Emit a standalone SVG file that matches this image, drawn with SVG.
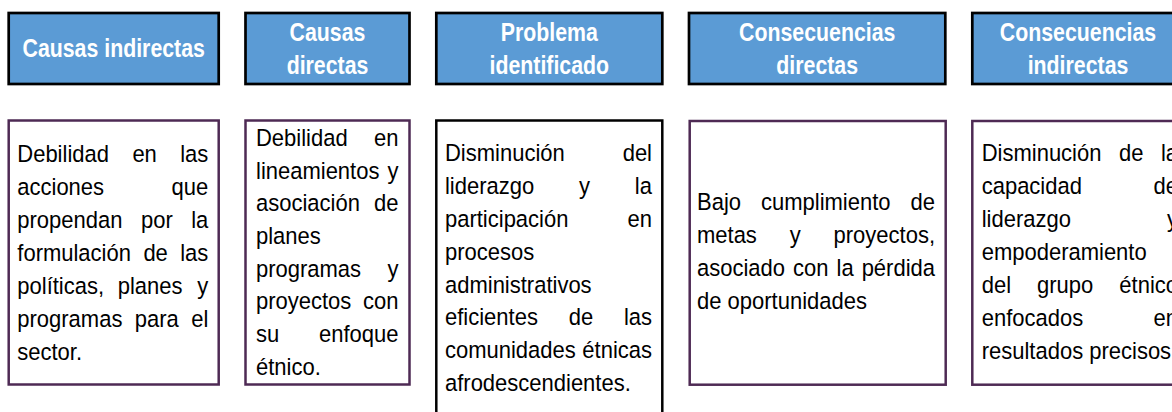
<svg xmlns="http://www.w3.org/2000/svg" width="1172" height="412" viewBox="0 0 1172 412">
<style>
.hdr{fill:#5B9BD5;stroke:#000;stroke-width:2.7}
.box{fill:#fff;stroke:#4E2A54;stroke-width:2.5}
.boxk{fill:#fff;stroke:#000;stroke-width:2.5}
.ht{font-family:"Liberation Sans",Arial,sans-serif;font-weight:bold;font-size:26px;fill:#fff;text-anchor:middle}
.bt{font-family:"Liberation Sans",Arial,sans-serif;font-size:23.5px;fill:#000}
.e{text-anchor:end}
</style>
<rect width="1172" height="412" fill="#fff"/>
<g id="connectors"></g>

<g id="h1">
<rect class="hdr" x="8.7" y="13" width="210" height="71"/>
<text class="ht" transform="translate(113.7,57) scale(0.82,1)">Causas indirectas</text>
</g>
<g id="h2">
<rect class="hdr" x="245.5" y="13" width="164" height="71"/>
<text class="ht" transform="translate(327.5,41) scale(0.82,1)">Causas</text>
<text class="ht" transform="translate(327.5,73.5) scale(0.82,1)">directas</text>
</g>
<g id="h3">
<rect class="hdr" x="436.3" y="13" width="226" height="71"/>
<text class="ht" transform="translate(549.3,41) scale(0.82,1)">Problema</text>
<text class="ht" transform="translate(549.3,73.5) scale(0.82,1)">identificado</text>
</g>
<g id="h4">
<rect class="hdr" x="689" y="13" width="256.3" height="71"/>
<text class="ht" transform="translate(817.2,41) scale(0.82,1)">Consecuencias</text>
<text class="ht" transform="translate(817.2,73.5) scale(0.82,1)">directas</text>
</g>
<g id="h5">
<rect class="hdr" x="972.3" y="13" width="212" height="71"/>
<text class="ht" transform="translate(1078,41) scale(0.82,1)">Consecuencias</text>
<text class="ht" transform="translate(1078,73.5) scale(0.82,1)">indirectas</text>
</g>

<g id="b1">
<rect class="box" x="8.7" y="120.5" width="210" height="264"/>
<g class="bt" transform="scale(0.936,1)">
<text x="18.48" y="162">Debilidad</text><text x="141.45" y="162">en</text><text class="e" x="222.54" y="162">las</text>
<text x="18.48" y="195">acciones</text><text class="e" x="222.54" y="195">que</text>
<text x="18.48" y="228">propendan</text><text x="150.64" y="228">por</text><text class="e" x="222.54" y="228">la</text>
<text x="18.48" y="261">formulación</text><text x="153.21" y="261">de</text><text class="e" x="222.54" y="261">las</text>
<text x="18.48" y="294">políticas,</text><text x="125.75" y="294">planes</text><text class="e" x="222.54" y="294">y</text>
<text x="18.48" y="327">programas</text><text x="144.02" y="327">para</text><text class="e" x="222.54" y="327">el</text>
<text x="18.48" y="360">sector.</text>
</g>
</g>

<g id="b2">
<rect class="box" x="245.5" y="120.5" width="164" height="264"/>
<g class="bt" transform="scale(0.936,1)">
<text x="273.5" y="146">Debilidad</text><text class="e" x="425.75" y="146">en</text>
<text x="273.5" y="178.7">lineamientos</text><text class="e" x="425.75" y="178.7">y</text>
<text x="273.5" y="211.4">asociación</text><text class="e" x="425.75" y="211.4">de</text>
<text x="273.5" y="244.1">planes</text>
<text x="273.5" y="276.8">programas</text><text class="e" x="425.75" y="276.8">y</text>
<text x="273.5" y="309.5">proyectos</text><text class="e" x="425.75" y="309.5">con</text>
<text x="273.5" y="342.2">su</text><text class="e" x="425.75" y="342.2">enfoque</text>
<text x="273.5" y="374.9">étnico.</text>
</g>
</g>

<g id="b3">
<rect class="boxk" x="436.3" y="120.5" width="226" height="300"/>
<g class="bt" transform="scale(0.936,1)">
<text x="475.43" y="161.5">Disminución</text><text class="e" x="696.58" y="161.5">del</text>
<text x="475.43" y="194.3">liderazgo</text><text x="618.7" y="194.3">y</text><text class="e" x="696.58" y="194.3">la</text>
<text x="475.43" y="227.1">participación</text><text class="e" x="696.58" y="227.1">en</text>
<text x="475.43" y="259.9">procesos</text>
<text x="475.43" y="292.7">administrativos</text>
<text x="475.43" y="325.5">eficientes</text><text x="607.59" y="325.5">de</text><text class="e" x="696.58" y="325.5">las</text>
<text x="475.43" y="358.3">comunidades</text><text class="e" x="696.58" y="358.3">étnicas</text>
<text x="475.43" y="391.1">afrodescendientes.</text>
</g>
</g>

<g id="b4">
<rect class="box" x="689.7" y="121" width="256" height="263.7"/>
<g class="bt" transform="scale(0.936,1)">
<text x="744.66" y="210">Bajo</text><text x="813.03" y="210">cumplimiento</text><text class="e" x="998.93" y="210">de</text>
<text x="744.66" y="243">metas</text><text x="843.7" y="243">y</text><text class="e" x="998.93" y="243">proyectos,</text>
<text x="744.66" y="276">asociado</text><text x="847.22" y="276">con</text><text x="893.7" y="276">la</text><text class="e" x="998.93" y="276">pérdida</text>
<text x="744.66" y="309">de oportunidades</text>
</g>
</g>

<g id="b5">
<rect class="box" x="972.3" y="121" width="216" height="263.7"/>
<g class="bt" transform="scale(0.936,1)">
<text x="1048.83" y="161.5">Disminución</text><text x="1195.51" y="161.5">de</text><text class="e" x="1258.55" y="161.5">la</text>
<text x="1048.83" y="194.5">capacidad</text><text class="e" x="1258.55" y="194.5">de</text>
<text x="1048.83" y="227.5">liderazgo</text><text class="e" x="1258.55" y="227.5">y</text>
<text x="1048.83" y="260.5">empoderamiento</text>
<text x="1048.83" y="293.5">del</text><text x="1107.91" y="293.5">grupo</text><text class="e" x="1258.55" y="293.5">étnico</text>
<text x="1048.83" y="326.5">enfocados</text><text class="e" x="1258.55" y="326.5">en</text>
<text x="1048.83" y="359.5">resultados precisos.</text>
</g>
</g>
</svg>
